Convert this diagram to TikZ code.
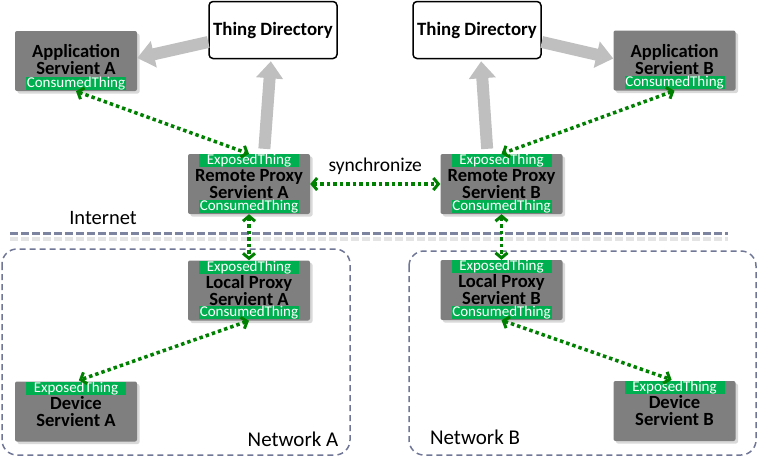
\documentclass[tikz,border=0pt]{standalone}
\usepackage{fontspec}
\setmainfont{Carlito}
\usetikzlibrary{positioning,arrows.meta,shadows}
\definecolor{boxgray}{RGB}{127,127,127}
\definecolor{taggreen}{RGB}{0,176,80}
\definecolor{linkgreen}{RGB}{0,128,0}
\definecolor{pushgray}{RGB}{191,191,191}
\definecolor{netblue}{RGB}{111,118,150}

\begin{document}
\begin{tikzpicture}[x=1pt, y=-1pt,
		servient/.style={fill=boxgray, rounded corners=2pt, minimum width=122pt, minimum height=60pt, inner sep=0pt, align=center, font=\fontsize{18.6}{17}\selectfont\bfseries, drop shadow={shadow xshift=2.5pt, shadow yshift=-2.5pt, opacity=0.3}},
		raised/.style={text depth=2.5pt},
		directory/.style={draw=black, line width=1.5pt, fill=white, rounded corners=4pt, minimum width=128pt, minimum height=57pt, inner sep=0pt, font=\fontsize{18.8}{17}\selectfont\bfseries},
		tag/.style={fill=taggreen, text=white, inner sep=0pt, minimum width=100pt, minimum height=13pt, text height=10.5pt, text depth=2pt, font=\fontsize{15}{15}\selectfont},
		link/.style={linkgreen, line width=3.5pt, dash pattern=on 3.5pt off 3pt, {Straight Barb[length=5pt,width=12pt,line width=3pt]}-{Straight Barb[length=5pt,width=12pt,line width=3pt]}},
		push/.style={pushgray, line width=12pt, -{Triangle[length=17pt,width=26pt]}},
		network/.style={netblue, line width=1.5pt, dash pattern=on 6pt off 4pt, rounded corners=15pt},
		plain/.style={inner sep=0pt, text=black, font=\fontsize{21}{21}\selectfont}]
		\useasboundingbox (0,0) rectangle (757,459);

		\draw[network] (2,249) rectangle (350,455);
		\draw[network] (409,251) rectangle (756,455);
		\draw[gray!35, line width=4pt, dash pattern=on 8pt off 3pt, opacity=0.6] (10,239) -- (728,239);
		\draw[netblue!90, line width=3pt, dash pattern=on 8pt off 3pt] (10,233) -- (728,233);

		\node[plain, font=\fontsize{20.5}{20.5}\selectfont] (inet) at (103,218) {Internet};
		\node[plain] (netA) at (293,439) {Network A};
		\node[plain] (netB) at (475,437) {Network B};

		\node[directory] (tdA) at (273,30) {Thing Directory};
		\node[directory] (tdB) at (477,30) {Thing Directory};

		\node[servient, raised] (appA) at (76,61) {Application\\Servient A};
		\node[servient, raised] (appB) at (674.5,60.5) {Application\\Servient B};
		\node[servient] (rpA) at (249,184) {Remote Proxy\\Servient A};
		\node[servient] (rpB) at (501.5,184) {Remote Proxy\\Servient B};
		\node[servient] (lpA) at (249,290.5) {Local Proxy\\Servient A};
		\node[servient] (lpB) at (501.5,290) {Local Proxy\\Servient B};
		\node[servient] (devA) at (76,411.5) {Device\\Servient A};
		\node[servient] (devB) at (674.5,411) {Device\\Servient B};

		\node[tag, above=1.5pt of appA.south] (appAcon) {ConsumedThing};
		\node[tag, above=1.5pt of appB.south] (appBcon) {ConsumedThing};
		\node[tag, below=0pt of rpA.north] (rpAexp) {ExposedThing};
		\node[tag, above=1.5pt of rpA.south] (rpAcon) {ConsumedThing};
		\node[tag, below=0pt of rpB.north] (rpBexp) {ExposedThing};
		\node[tag, above=1.5pt of rpB.south] (rpBcon) {ConsumedThing};
		\node[tag, below=0pt of lpA.north] (lpAexp) {ExposedThing};
		\node[tag, above=1.5pt of lpA.south] (lpAcon) {ConsumedThing};
		\node[tag, below=0pt of lpB.north] (lpBexp) {ExposedThing};
		\node[tag, above=1.5pt of lpB.south] (lpBcon) {ConsumedThing};
		\node[tag, below=0pt of devA.north] (devAexp) {ExposedThing};
		\node[tag, below=0pt of devB.north] (devBexp) {ExposedThing};

		\draw[push] ([yshift=-12pt]tdA.west) -- ([yshift=3pt]appA.east);
		\draw[push] ([yshift=-12pt]tdB.east) -- ([yshift=2pt]appB.west);
		\draw[push, shorten <=5pt, shorten >=2pt] ([xshift=15pt]rpA.north) -- ([xshift=-2pt]tdA.south);
		\draw[push, shorten <=5pt, shorten >=2pt] ([xshift=-14pt]rpB.north) -- ([xshift=4pt]tdB.south);

		\draw[link] (appA.south) -- (rpA.north);
		\draw[link] (appB.south) -- (rpB.north);
		\draw[link] (rpA.east) -- node[above=8pt, plain, font=\fontsize{19.5}{19.5}\selectfont] (sync) {synchronize} (rpB.west);
		\draw[link] (rpA.south) -- (lpA.north);
		\draw[link] (rpB.south) -- (lpB.north);
		\draw[link, shorten >=3pt] (lpA.south) -- (devA.north);
		\draw[link, shorten >=3pt] (lpB.south) -- (devB.north);
	\end{tikzpicture}
\end{document}
